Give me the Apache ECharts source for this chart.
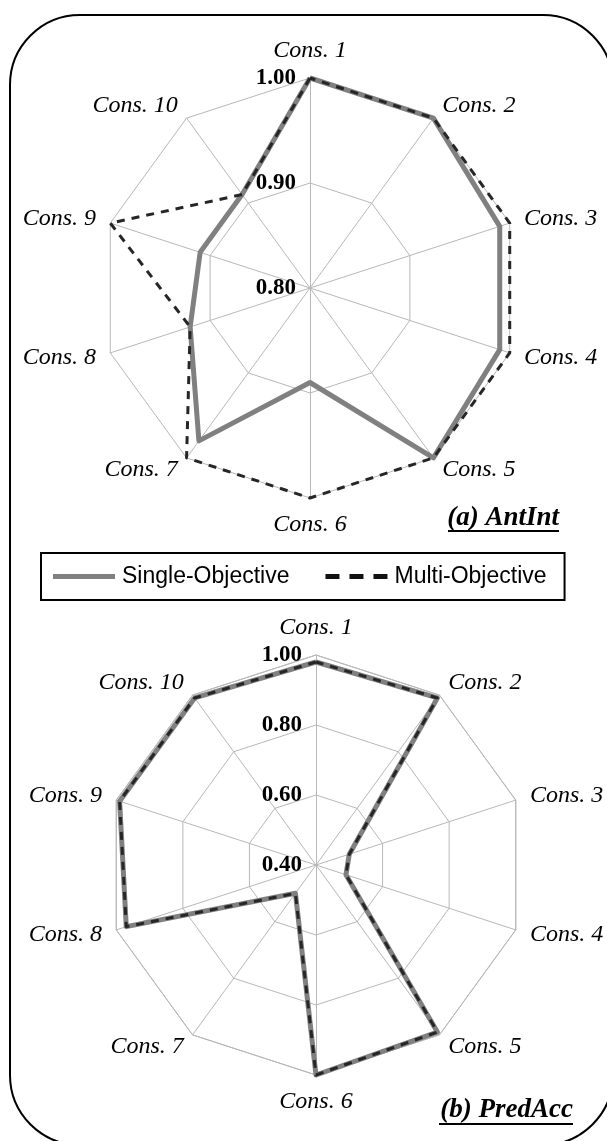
<!DOCTYPE html>
<html>
<head>
	<meta charset="UTF-8">
	<title></title>
	<style>
		html, body { margin: 0; padding: 0; background: #fff; }
	</style>
</head>
<body>
	<div id="chart-wrap" style="width: 607px; height: 1141px;"></div>
</body>
<script src="https://cdn.jsdelivr.net/npm/echarts@6/dist/echarts.min.js"></script>
<script>
// 约束名称
var consNames = ['Cons. 1', 'Cons. 2', 'Cons. 3', 'Cons. 4', 'Cons. 5',
                 'Cons. 6', 'Cons. 7', 'Cons. 8', 'Cons. 9', 'Cons. 10'];

// (a) AntInt
var antIntSingle = [1.00, 1.00, 0.99, 0.99, 1.00, 0.89, 0.98, 0.92, 0.91, 0.91];
var antIntMulti  = [1.00, 1.00, 1.00, 1.00, 1.00, 1.00, 1.00, 0.92, 1.00, 0.91];

// (b) PredAcc
var predAccSingle = [0.98, 0.99, 0.50, 0.49, 0.99, 1.00, 0.50, 0.97, 0.99, 0.99];
var predAccMulti  = [0.98, 0.99, 0.50, 0.49, 0.99, 1.00, 0.50, 0.97, 0.99, 0.99];

var seriesNames = ['Single-Objective', 'Multi-Objective'];

// echarts的雷达图是逆时针排列的，这里换成顺时针 (1,10,9,...,2)
var order = [0, 9, 8, 7, 6, 5, 4, 3, 2, 1];
var reorder = function (arr) {
    return order.map(function (i) { return arr[i]; });
};

var makeRadar = function (center, min, max, splitNumber) {
    return {
        center: center,
        radius: 210,
        startAngle: 90,
        shape: 'polygon',
        splitNumber: splitNumber,
        nameGap: 15,
        indicator: order.map(function (i, k) {
            var ind = { name: consNames[i], min: min, max: max };
            // 只在第一根轴上显示刻度
            if (k === 0) {
                ind.axisLabel = { show: true };
            }
            return ind;
        }),
        axisName: {
            color: '#000',
            fontFamily: 'Liberation Serif',
            fontStyle: 'italic',
            fontSize: 24
        },
        axisLine: { lineStyle: { color: '#b8b8b8', width: 1 } },
        splitLine: { lineStyle: { color: '#b8b8b8', width: 1 } },
        splitArea: { show: false },
        axisTick: { show: false },
        axisLabel: {
            show: false,
            color: '#000',
            fontFamily: 'Liberation Serif',
            fontWeight: 'bold',
            fontSize: 23,
            margin: 14,
            formatter: function (v) { return v.toFixed(2); }
        }
    };
};

var solidStyle = { color: '#808080', width: 5, type: 'solid' };
var dashStyle = { color: '#262626', width: 3, type: [8, 7] };

var makeSeries = function (radarIndex, single, multi) {
    return [{
        type: 'radar',
        radarIndex: radarIndex,
        symbol: 'none',
        silent: true,
        z: 2,
        data: [{
            name: seriesNames[0],
            value: reorder(single),
            itemStyle: { color: '#808080' },
            lineStyle: solidStyle
        }]
    }, {
        type: 'radar',
        radarIndex: radarIndex,
        symbol: 'none',
        silent: true,
        z: 3,
        data: [{
            name: seriesNames[1],
            value: reorder(multi),
            itemStyle: { color: '#262626' },
            lineStyle: dashStyle
        }]
    }];
};

var myChart = echarts.init(document.getElementById('chart-wrap'));

var option = {
    animation: false,
    backgroundColor: '#fff',
    radar: [
        makeRadar([310, 288], 0.8, 1.0, 2),
        makeRadar([316, 865], 0.4, 1.0, 3)
    ],
    legend: {
        left: 41,
        top: 553,
        padding: [12, 18, 12, 12],
        borderColor: '#000',
        borderWidth: 2,
        itemWidth: 62,
        itemHeight: 5,
        itemGap: 36,
        selectedMode: false,
        itemStyle: { borderWidth: 0 },
        textStyle: {
            color: '#000',
            fontFamily: 'Liberation Sans',
            fontSize: 23,
            padding: [0, 0, 0, 2]
        },
        data: [{
            name: seriesNames[0],
            icon: 'path://M0,0h62v5h-62z',
            itemStyle: { color: '#808080' }
        }, {
            name: seriesNames[1],
            icon: 'path://M0,0h14v5h-14zM24,0h14v5h-14zM48,0h14v5h-14z',
            itemStyle: { color: '#111' }
        }]
    },
    graphic: [{
        // 外框
        type: 'rect',
        shape: { x: 10, y: 15, width: 603, height: 1130, r: 70 },
        style: { fill: 'none', stroke: '#000', lineWidth: 2 },
        silent: true
    }, {
        type: 'text',
        style: {
            text: '(a) AntInt', x: 559, y: 518, align: 'right', verticalAlign: 'middle',
            font: 'italic bold 27px "Liberation Serif"', fill: '#000'
        }
    }, {
        type: 'line',
        shape: { x1: 448, y1: 531, x2: 559, y2: 531 },
        style: { stroke: '#000', lineWidth: 2 }
    }, {
        type: 'text',
        style: {
            text: '(b) PredAcc', x: 573, y: 1110, align: 'right', verticalAlign: 'middle',
            font: 'italic bold 27px "Liberation Serif"', fill: '#000'
        }
    }, {
        type: 'line',
        shape: { x1: 439, y1: 1124, x2: 573, y2: 1124 },
        style: { stroke: '#000', lineWidth: 2 }
    }],
    series: makeSeries(0, antIntSingle, antIntMulti).concat(makeSeries(1, predAccSingle, predAccMulti))
};

myChart.setOption(option);
</script>
</html>
